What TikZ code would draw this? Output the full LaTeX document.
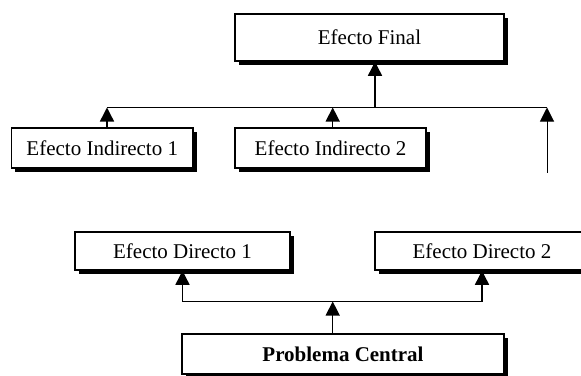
\documentclass[tikz,border=0pt]{standalone}
\usepackage{fontspec}
\setmainfont{Liberation Serif}
\usetikzlibrary{arrows.meta,shadows}
\begin{document}
\begin{tikzpicture}[x=1pt,y=-1pt,
  box/.style={draw, fill=white, line width=1.5pt, inner sep=0pt,
    font=\fontsize{21}{25}\selectfont,
    drop shadow={shadow xshift=3.5pt, shadow yshift=-3.5pt, fill=black, opacity=1}},
  conn/.style={line width=1.4pt},
  arr/.style={conn, -{Triangle[width=14pt,length=14pt]}},
  thinarr/.style={line width=1pt, -{Triangle[width=14pt,length=14pt]}}]
\useasboundingbox (0,0) rectangle (581,375);
\fill[white] (0,0) rectangle (581,375);

% boxes
\node[box, minimum width=269pt, minimum height=47pt] (EF) at (369.5,37.5) {Efecto Final};
\node[box, minimum width=181.5pt, minimum height=40pt] (EI1) at (102.25,148) {Efecto Indirecto 1};
\node[box, minimum width=191pt, minimum height=40pt] (EI2) at (330.5,148) {Efecto Indirecto 2};
\node[box, minimum width=215pt, minimum height=38pt] (ED1) at (182.5,251) {Efecto Directo 1};
\node[box, minimum width=214pt, minimum height=38pt] (ED2) at (482,251) {Efecto Directo 2};
\node[box, minimum width=322pt, minimum height=40pt] (PC) at (343,354) {\bfseries Problema Central};

% upper connectors
\coordinate (L) at (107,107.5);
\coordinate (M) at (332.7,107.5);
\coordinate (J) at (375,107.5);
\coordinate (R) at (547,107.5);
\coordinate (Rb) at (547,172.5);
\draw[conn] (L) -- (R);
\draw[arr] (J) -- (EF.south -| J);
\draw[arr] (EI1.north -| L) -- (L);
\draw[arr] (EI2.north -| M) -- (M);
\draw[thinarr] (Rb) -- (R);

% lower connectors
\coordinate (A) at (182.5,301.5);
\coordinate (B) at (482,301.5);
\coordinate (C) at (332.7,301.5);
\draw[conn] (A) -- (B);
\draw[arr] (A) -- (ED1.south);
\draw[arr] (B) -- (ED2.south);
\draw[arr] (PC.north -| C) -- (C);
\end{tikzpicture}
\end{document}
